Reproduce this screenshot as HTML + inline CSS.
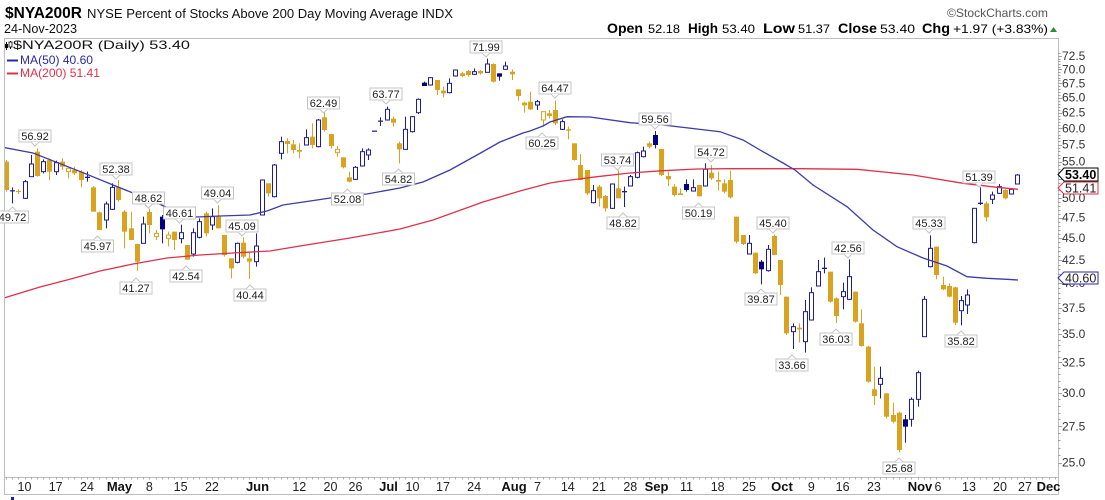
<!DOCTYPE html>
<html><head><meta charset="utf-8">
<style>
html,body{margin:0;padding:0;background:#fff;}
svg{display:block;}
text{font-family:"Liberation Sans",Arial,sans-serif;}
.lb rect{fill:#fff;stroke:#c4c4c4;stroke-width:1;}
.lb path{fill:#fff;stroke:#c4c4c4;stroke-width:1;}
.lb text{font-size:11px;fill:#222;text-anchor:middle;}
.ya{font-size:12px;fill:#333;}
.xa{font-size:12.5px;fill:#222;text-anchor:middle;}
.xm{font-size:13px;font-weight:bold;fill:#111;text-anchor:middle;}
</style></head><body>
<svg id="s" width="1105" height="500" viewBox="0 0 1105 500" xmlns="http://www.w3.org/2000/svg">
<rect x="0" y="0" width="1105" height="500" fill="#fff"/>
<!-- header -->
<text x="5" y="18" font-size="16" font-weight="bold" fill="#000" textLength="77" lengthAdjust="spacingAndGlyphs">$NYA200R</text>
<text x="87" y="18" font-size="13" fill="#111" textLength="366" lengthAdjust="spacingAndGlyphs">NYSE Percent of Stocks Above 200 Day Moving Average INDX</text>
<text x="4" y="33" font-size="12.5" fill="#111" textLength="73" lengthAdjust="spacingAndGlyphs">24-Nov-2023</text>
<text x="947" y="17" font-size="12" fill="#555" textLength="101" lengthAdjust="spacingAndGlyphs">©StockCharts.com</text>
<g fill="#000">
<text x="607" y="33" font-size="13.5" font-weight="bold" textLength="36" lengthAdjust="spacingAndGlyphs">Open</text>
<text x="648" y="33" font-size="12" textLength="32" lengthAdjust="spacingAndGlyphs">52.18</text>
<text x="688" y="33" font-size="13.5" font-weight="bold" textLength="30" lengthAdjust="spacingAndGlyphs">High</text>
<text x="722" y="33" font-size="12" textLength="33" lengthAdjust="spacingAndGlyphs">53.40</text>
<text x="763" y="33" font-size="13.5" font-weight="bold" textLength="32" lengthAdjust="spacingAndGlyphs">Low</text>
<text x="798" y="33" font-size="12" textLength="32" lengthAdjust="spacingAndGlyphs">51.37</text>
<text x="838" y="33" font-size="13.5" font-weight="bold" textLength="39" lengthAdjust="spacingAndGlyphs">Close</text>
<text x="880" y="33" font-size="12" textLength="35" lengthAdjust="spacingAndGlyphs">53.40</text>
<text x="922" y="33" font-size="13.5" font-weight="bold" textLength="28" lengthAdjust="spacingAndGlyphs">Chg</text>
<text x="953" y="33" font-size="12" textLength="95" lengthAdjust="spacingAndGlyphs">+1.97 (+3.83%)</text>
</g>
<polygon points="1050,32 1057,32 1053.5,27" fill="#2e8b2e"/>

<!-- plot frame -->
<rect x="4.5" y="38.5" width="1054" height="439" fill="none" stroke="#bdbdbd"/>
<line x1="1058.5" y1="38" x2="1058.5" y2="495" stroke="#bdbdbd"/>
<line x1="4.5" y1="477" x2="4.5" y2="495" stroke="#bdbdbd"/>
<line x1="4" y1="494.5" x2="1059" y2="494.5" stroke="#bdbdbd"/>
<rect x="11" y="497" width="3" height="3" fill="#1c1c9e"/>

<g id="ticks"></g>

<!-- legend -->
<g>
<line x1="6.5" y1="42" x2="6.5" y2="50" stroke="#000"/>
<rect x="5" y="44" width="3" height="4" fill="#000"/>
<line x1="10.5" y1="41" x2="10.5" y2="49" stroke="#000"/>
<rect x="9" y="42" width="3" height="5" fill="#fff" stroke="#000" stroke-width="0.8"/>
<text x="13" y="49" font-family="DejaVu Sans, Liberation Sans, sans-serif" font-size="12" fill="#111" textLength="177" lengthAdjust="spacingAndGlyphs">$NYA200R (Daily) 53.40</text>
<line x1="7" y1="60.5" x2="18" y2="60.5" stroke="#2a2aa0" stroke-width="2"/>
<text x="20" y="64" font-family="DejaVu Sans, Liberation Sans, sans-serif" font-size="12" fill="#2a2aa0" textLength="73" lengthAdjust="spacingAndGlyphs">MA(50) 40.60</text>
<line x1="7" y1="73.5" x2="18" y2="73.5" stroke="#e0304a" stroke-width="2"/>
<text x="20" y="77" font-family="DejaVu Sans, Liberation Sans, sans-serif" font-size="12" fill="#e0304a" textLength="80" lengthAdjust="spacingAndGlyphs">MA(200) 51.41</text>
</g>

<!-- y axis labels -->
<g class="ya">
<text x="1062" y="60">72.5</text>
<text x="1062" y="73.4">70.0</text>
<text x="1062" y="87.3">67.5</text>
<text x="1062" y="101.7">65.0</text>
<text x="1062" y="116.7">62.5</text>
<text x="1062" y="132.3">60.0</text>
<text x="1062" y="148.6">57.5</text>
<text x="1062" y="165.5">55.0</text>
<text x="1062" y="201.9">50.0</text>
<text x="1062" y="221.5">47.5</text>
<text x="1062" y="242.2">45.0</text>
<text x="1062" y="264">42.5</text>
<text x="1062" y="287.2">40.0</text>
<text x="1062" y="311.8">37.5</text>
<text x="1062" y="338.2">35.0</text>
<text x="1062" y="366.5">32.5</text>
<text x="1062" y="397.1">30.0</text>
<text x="1062" y="430.3">27.5</text>
<text x="1062" y="466.7">25.0</text>
</g>

<!-- x axis labels -->
<g>
<text class="xa" x="24.5" y="491">10</text>
<text class="xa" x="55.7" y="491">17</text>
<text class="xa" x="87" y="491">24</text>
<text class="xm" x="119.5" y="491">May</text>
<text class="xa" x="149.4" y="491">8</text>
<text class="xa" x="180.6" y="491">15</text>
<text class="xa" x="211.9" y="491">22</text>
<text class="xm" x="257.5" y="491">Jun</text>
<text class="xa" x="299.3" y="491">12</text>
<text class="xa" x="330.5" y="491">20</text>
<text class="xa" x="355.5" y="491">26</text>
<text class="xm" x="388.5" y="491">Jul</text>
<text class="xa" x="412.5" y="491">10</text>
<text class="xa" x="443" y="491">17</text>
<text class="xa" x="474.1" y="491">24</text>
<text class="xm" x="514" y="491">Aug</text>
<text class="xa" x="537.5" y="491">7</text>
<text class="xa" x="567.8" y="491">14</text>
<text class="xa" x="599" y="491">21</text>
<text class="xa" x="630.3" y="491">28</text>
<text class="xm" x="656.5" y="491">Sep</text>
<text class="xa" x="686.5" y="491">11</text>
<text class="xa" x="717.7" y="491">18</text>
<text class="xa" x="749" y="491">25</text>
<text class="xm" x="782" y="491">Oct</text>
<text class="xa" x="811.4" y="491">9</text>
<text class="xa" x="842.6" y="491">16</text>
<text class="xa" x="873.9" y="491">23</text>
<text class="xm" x="920" y="491">Nov</text>
<text class="xa" x="938" y="491">6</text>
<text class="xa" x="969" y="491">13</text>
<text class="xa" x="1000" y="491">20</text>
<text class="xa" x="1025" y="491">27</text>
<text class="xm" x="1048.5" y="491">Dec</text>
</g>

<defs><clipPath id="pc"><rect x="5" y="39" width="1053" height="438"/></clipPath></defs>
<g clip-path="url(#pc)">
<g id="candles"></g>
<polyline id="ma200" fill="none" stroke="#e0304a" stroke-width="1.3" points="4,298 40,287 67,280 100,271 133,264 167,258 200,255 233,253 270,251 300,246 350,238 400,229 433,220 483,202 520,191 550,183 563,181 597,176.7 630,173 663,170.7 697,169 730,168.7 800,168.7 857,169.3 913,175 963,183.3 997,187.3 1018,189.3"/>
<polyline id="ma50" fill="none" stroke="#3c3ca8" stroke-width="1.3" points="4,147.5 33,153 83,172.7 113,185 133,193 157,203 177,212 197,217 220,216 250,215 267,211 283,205 317,200 350,195 367,194 400,188 423,182 450,170 477,155 500,142 523,133 530,131 543,126 550,122 567,116.7 590,117 630,122.7 663,125 697,129 720,131.7 743,140 763,151.7 783,163 795,170 813,185 847,206.7 873,230 897,246.7 923,258 947,266 967,276.7 987,278.3 1007,279.3 1018,280"/>
</g>

<!-- annotation labels -->
<g class="lb">
<rect x="19" y="130" width="32" height="12"/><path d="M31,142 L35,146 L39,142"/><text x="35" y="140">56.92</text>
<rect x="-3.5" y="211" width="32" height="12"/><path d="M8.5,211 L12.5,207 L16.5,211"/><text x="12.5" y="221">49.72</text>
<rect x="100" y="163" width="32" height="12"/><path d="M112,175 L116,179 L120,175"/><text x="116" y="173">52.38</text>
<rect x="81.5" y="240" width="32" height="12"/><path d="M93.5,240 L97.5,236 L101.5,240"/><text x="97.5" y="250">45.97</text>
<rect x="132.5" y="192" width="32" height="12"/><path d="M144.5,204 L148.5,208 L152.5,204"/><text x="148.5" y="202">48.62</text>
<rect x="120" y="282" width="32" height="12"/><path d="M132,282 L136,278 L140,282"/><text x="136" y="292">41.27</text>
<rect x="163.5" y="207" width="32" height="12"/><path d="M175.5,219 L179.5,223 L183.5,219"/><text x="179.5" y="217">46.61</text>
<rect x="170" y="270" width="32" height="12"/><path d="M182,270 L186,266 L190,270"/><text x="186" y="280">42.54</text>
<rect x="201.5" y="187" width="32" height="12"/><path d="M213.5,199 L217.5,203 L221.5,199"/><text x="217.5" y="197">49.04</text>
<rect x="226" y="220" width="32" height="12"/><path d="M238,232 L242,236 L246,232"/><text x="242" y="230">45.09</text>
<rect x="234" y="289" width="32" height="12"/><path d="M246,289 L250,285 L254,289"/><text x="250" y="299">40.44</text>
<rect x="307.5" y="97" width="32" height="12"/><path d="M319.5,109 L323.5,113 L327.5,109"/><text x="323.5" y="107">62.49</text>
<rect x="331.5" y="193" width="32" height="12"/><path d="M343.5,193 L347.5,189 L351.5,193"/><text x="347.5" y="203">52.08</text>
<rect x="370" y="88" width="32" height="12"/><path d="M382,100 L386,104 L390,100"/><text x="386" y="98">63.77</text>
<rect x="382.5" y="173" width="32" height="12"/><path d="M394.5,173 L398.5,169 L402.5,173"/><text x="398.5" y="183">54.82</text>
<rect x="470" y="41" width="32" height="12"/><path d="M482,53 L486,57 L490,53"/><text x="486" y="51">71.99</text>
<rect x="539" y="82" width="32" height="12"/><path d="M551,94 L555,98 L559,94"/><text x="555" y="92">64.47</text>
<rect x="526" y="137" width="32" height="12"/><path d="M538,137 L542,133 L546,137"/><text x="542" y="147">60.25</text>
<rect x="601.5" y="154" width="32" height="12"/><path d="M613.5,166 L617.5,170 L621.5,166"/><text x="617.5" y="164">53.74</text>
<rect x="607" y="217" width="32" height="12"/><path d="M619,217 L623,213 L627,217"/><text x="623" y="227">48.82</text>
<rect x="639" y="113" width="32" height="12"/><path d="M651,125 L655,129 L659,125"/><text x="655" y="123">59.56</text>
<rect x="695" y="146" width="32" height="12"/><path d="M707,158 L711,162 L715,158"/><text x="711" y="156">54.72</text>
<rect x="682.5" y="207" width="32" height="12"/><path d="M694.5,207 L698.5,203 L702.5,207"/><text x="698.5" y="217">50.19</text>
<rect x="757" y="217" width="32" height="12"/><path d="M769,229 L773,233 L777,229"/><text x="773" y="227">45.40</text>
<rect x="745" y="293" width="32" height="12"/><path d="M757,293 L761,289 L765,293"/><text x="761" y="303">39.87</text>
<rect x="776" y="359" width="32" height="12"/><path d="M788,359 L792,355 L796,359"/><text x="792" y="369">33.66</text>
<rect x="832" y="242" width="32" height="12"/><path d="M844,254 L848,258 L852,254"/><text x="848" y="252">42.56</text>
<rect x="820" y="333" width="32" height="12"/><path d="M832,333 L836,329 L840,333"/><text x="836" y="343">36.03</text>
<rect x="883" y="462" width="32" height="12"/><path d="M895,462 L899,458 L903,462"/><text x="899" y="472">25.68</text>
<rect x="913" y="217" width="32" height="12"/><path d="M925,229 L929,233 L933,229"/><text x="929" y="227">45.33</text>
<rect x="945" y="335" width="32" height="12"/><path d="M957,335 L961,331 L965,335"/><text x="961" y="345">35.82</text>
<rect x="963" y="171" width="32" height="12"/><path d="M975,183 L979,187 L983,183"/><text x="979" y="181">51.39</text>
</g>

<!-- right value boxes -->
<polygon points="1058,174.5 1064,168 1098,168 1098,181 1064,181" fill="#fff" stroke="#000" stroke-width="1"/>
<text x="1065" y="179" font-size="12.5" font-weight="bold" fill="#000">53.40</text>
<polygon points="1058,188 1064,182 1098,182 1098,194 1064,194" fill="#fff" stroke="#e0304a" stroke-width="1"/>
<text x="1065" y="192.5" font-size="12.5" fill="#222">51.41</text>
<polygon points="1058,278 1064,272 1098,272 1098,284 1064,284" fill="#fff" stroke="#2a2aa8" stroke-width="1"/>
<text x="1065" y="282.5" font-size="12.5" fill="#222">40.60</text>
</svg>
<script>
(function(){
var NS='http://www.w3.org/2000/svg';
function mk(g,tag,a){var e=document.createElementNS(NS,tag);for(var k in a)e.setAttribute(k,a[k]);g.appendChild(e);return e;}
var tk=document.getElementById('ticks');
// x-axis day ticks
for(var i=-3;i<=165;i++){var x=Math.round(24.5+i*6.245)+0.5; if(x>1058)break; mk(tk,'line',{x1:x,y1:477,x2:x,y2:479.5,stroke:'#b0b0b0','stroke-width':1});}
// y-axis ticks (log scale)
function Yv(v){return 56+(Math.log(72.5)-Math.log(v))*382;}
for(var v=25;v<=73.01;v+=0.5){var y=Math.round(Yv(v))+0.5;var maj=Math.abs(v/2.5-Math.round(v/2.5))<1e-6;mk(tk,'line',{x1:1058,y1:y,x2:maj?1062:1060.5,y2:y,stroke:'#a0a0a0','stroke-width':1});}
var g=document.getElementById('candles');
var OR='#D9A21F',BL='#1c1c9e',BF='#000080';
function draw(arr,yo){
 arr.forEach(function(r){
  var i=r[0],t=r[1];
  var cx=Math.round(24.5+i*6.245)+0.5;
  var a=yo+r[2]/3,b=yo+r[3]/3,c=yo+r[4]/3,d=yo+r[5]/3;
  if(c-b<1.2){var m=(b+c)/2;b=m-0.6;c=m+0.6;}
  var col=t[0]==='o'?OR:BL;
  mk(g,'line',{x1:cx,y1:a,x2:cx,y2:d,stroke:col,'stroke-width':1});
  if(t[1]==='h'){
   if(c-b<2.2){mk(g,'rect',{x:cx-2.5,y:b,width:5,height:Math.max(c-b,1.2),fill:col});}
   else mk(g,'rect',{x:cx-2,y:b,width:4,height:c-b,fill:'#fff',stroke:col,'stroke-width':1});
  } else {
   mk(g,'rect',{x:cx-2.5,y:b,width:5,height:Math.max(c-b,1.2),fill:t[0]==='o'?OR:BF});
  }
 });
}
draw([[-3,'of',180,185,270,275],[-2,'bh',262,271,274,310],[-1,'of',268,273,276,282],[0,'bh',240,245,295,297],[1,'bh',165,192,230,230],[2,'of',145,155,228,230],[3,'bh',178,185,215,220],[4,'of',175,180,215,240],[5,'bh',182,188,215,225],[6,'of',175,185,200,210],[7,'oh',200,205,215,235],[8,'of',200,210,220,225],[9,'of',210,215,240,262],[10,'bh',215,230,234,245],[11,'of',258,262,335,335],[12,'of',335,337,390,390],[13,'bh',305,312,360,385],[14,'bh',250,262,328,330],[15,'of',240,262,300,305],[16,'of',330,335,395,445],[17,'of',335,385,420,420],[18,'of',432,432,485,513],[19,'bh',350,372,430,430],[20,'of',326,336,375,400],[21,'oh',390,400,410,420],[22,'bf',345,350,388,430],[23,'oh',395,405,415,440],[24,'of',395,395,420,450],[25,'bh',374,398,416,430],[26,'of',435,435,479,479],[27,'bh',385,398,462,470],[28,'bh',355,365,412,415],[29,'of',335,340,400,410],[30,'bh',325,350,375,390],[31,'of',316,350,385,385],[32,'of',405,405,465,470],[33,'of',475,475,505,535],[34,'bh',428,430,487,490],[35,'of',412,428,470,475],[36,'of',455,475,485,537],[37,'bh',400,438,485,500],[38,'bh',238,240,345,345]],100);
draw([[39,'of',430,430,460,470],[40,'bh',372,375,470,472],[41,'bh',290,305,340,358],[42,'of',295,303,312,340],[43,'of',300,313,330,340],[44,'of',310,330,335,355],[45,'bh',268,293,315,315],[46,'of',250,290,315,325],[47,'bh',237,240,320,322],[48,'of',218,232,270,275],[49,'of',282,282,318,325],[50,'oh',318,328,338,350],[51,'of',352,352,382,385],[52,'of',395,412,425,427],[53,'bh',378,382,418,420],[54,'bh',325,335,378,380],[55,'bh',325,330,345,360],[56,'bh',272,272,275,275],[57,'bh',232,242,245,258],[58,'bh',200,208,240,242],[59,'of',230,236,248,260],[60,'of',305,310,328,370],[61,'bh',230,268,328,328],[62,'bh',228,230,275,278],[63,'bh',175,178,218,222],[64,'bf',125,128,138,138],[65,'bh',112,113,135,137],[66,'of',120,120,150,165],[67,'of',140,152,160,172],[68,'bh',115,130,158,160],[69,'bh',88,90,108,110],[70,'of',95,100,108,112],[71,'of',90,93,105,110],[72,'bh',85,95,103,105],[73,'of',90,93,100,104],[74,'bh',56,72,97,97],[75,'of',70,72,125,128],[76,'bf',100,100,110,122],[77,'bh',65,78,88,88],[78,'of',88,95,103,120],[79,'of',148,148,168,182],[80,'of',185,188,196,218],[81,'of',155,185,208,210],[82,'bh',180,185,195,210],[83,'oh',215,215,240,260]],40);
draw([[84,'of',90,100,108,115],[85,'of',62,90,130,135],[86,'bh',118,125,148,150],[87,'of',140,148,152,178],[88,'of',190,190,240,242],[89,'of',222,255,300,300],[90,'of',270,270,340,345],[91,'bh',315,332,368,370],[92,'of',315,320,355,380],[93,'of',345,348,385,395],[94,'bh',310,312,385,387],[95,'of',271,325,355,355],[96,'bh',320,333,337,381],[97,'bh',285,290,318,318],[98,'bh',215,218,292,295],[99,'bh',200,213,230,232],[100,'of',185,190,200,205],[101,'bf',153,165,195,205],[102,'of',207,207,285,288],[103,'of',275,288,298,318],[104,'of',312,320,345,350],[105,'of',325,340,345,345],[106,'bf',298,312,330,335],[107,'bh',298,323,333,335],[108,'of',315,315,349,349],[109,'bh',250,268,318,320],[110,'of',255,278,295,300],[111,'of',275,300,305,332],[112,'of',298,310,335,340],[113,'of',272,300,352,355],[114,'of',410,410,485,490],[115,'of',465,465,492,495],[116,'bh',465,490,522,523],[117,'of',518,518,580,582],[118,'bf',540,545,568,613],[119,'bh',495,508,572,575],[120,'of',464,468,525,525],[121,'of',540,540,615,645]],80);
draw([[122,'of',410,410,520,525],[123,'bh',490,500,515,567],[124,'of',490,503,508,548],[125,'bh',420,455,545,578],[126,'bh',382,398,480,482],[127,'bh',300,335,378,378],[128,'bh',293,323,327,340],[129,'of',335,335,425,428],[130,'of',412,415,468,489],[131,'bh',368,395,410,448],[132,'bh',298,350,418,420],[133,'of',395,395,485,488],[134,'of',448,490,558,560],[135,'of',558,560,665,668],[136,'of',620,688,708,735],[137,'bh',620,655,673,715],[138,'of',700,700,770,775],[139,'of',728,765,785,790],[140,'of',755,758,870,877],[141,'bf',765,778,800,848],[142,'bh',712,718,778,800],[143,'bh',632,638,718,740],[144,'bh',408,418,530,530],[145,'bh',226,265,320,322],[146,'of',260,260,345,358],[147,'of',350,375,388,390],[148,'of',370,378,410,412],[149,'of',380,382,488,495],[150,'bh',408,422,452,496],[151,'bh',388,405,435,462],[152,'bh',145,145,248,250],[153,'bh',82,128,132,135],[154,'of',125,130,172,185],[155,'bh',95,105,118,132],[156,'bh',72,80,100,102],[157,'of',88,90,115,118],[158,'bh',85,88,102,104],[159,'bh',42,45,72,72]],160);
})();
</script>
</body></html>
